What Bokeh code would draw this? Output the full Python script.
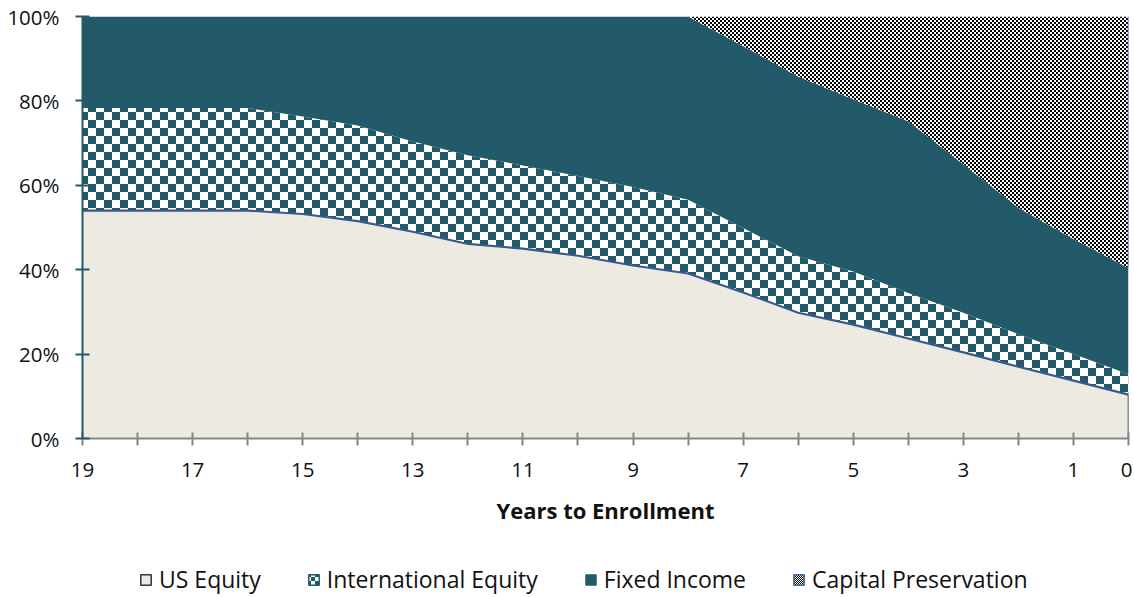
import urllib.parse
from bokeh.plotting import figure
from bokeh.layouts import column
from bokeh.models import (ColumnDataSource, Range1d, FixedTicker, PrintfTickFormatter,
                          Legend, LegendItem, ImageURLTexture, CDSView, IndexFilter)
from bokeh.core.properties import value
from bokeh.transform import stack
from bokeh.embed import file_html
from bokeh.resources import INLINE

# ---------------- data (percent of portfolio) ----------------
years = [19, 18, 17, 16, 15, 14, 13, 12, 11, 10, 9, 8, 7, 6, 5, 4, 3, 2, 1, 0]
us_equity = [54.0, 54.0, 54.0, 54.0, 53.2, 51.5, 49.0, 46.1, 45.0, 43.3,
             41.0, 39.1, 34.6, 29.8, 27.0, 23.7, 20.4, 17.0, 13.7, 10.4]
international_equity = [24.3, 24.3, 24.3, 24.3, 23.1, 22.7, 21.4, 21.0, 19.7, 18.9,
                        18.6, 17.5, 15.3, 13.4, 12.6, 10.8, 9.4, 7.7, 6.3, 4.8]
fixed_income = [21.7, 21.7, 21.7, 21.7, 23.7, 25.8, 29.6, 32.9, 35.3, 37.8,
                40.4, 43.4, 43.1, 42.6, 40.8, 40.7, 35.2, 30.0, 27.3, 25.2]
capital_preservation = [0.0, 0.0, 0.0, 0.0, 0.0, 0.0, 0.0, 0.0, 0.0, 0.0,
                        0.0, 0.0, 7.0, 14.2, 19.6, 24.8, 35.0, 45.3, 52.7, 59.6]
series_names = ["US Equity", "International Equity", "Fixed Income", "Capital Preservation"]
x_ticks = list(range(0, 20))
x_labeled = [19, 17, 15, 13, 11, 9, 7, 5, 3, 1, 0]
y_ticks = [0, 20, 40, 60, 80, 100]
x_title = "Years to Enrollment"

# ---------------- styles ----------------
TEAL = "#235A6A"
US_FILL = "#EDEBE1"
EDGE_BLUE = "#3A5A8E"
CP_EDGE = "#4D6E9C"
FONT = "Open Sans"

src = ColumnDataSource(dict(years=years, us=us_equity, intl=international_equity,
                            fi=fixed_income, cp=capital_preservation))


def checker(cell, color):
    s = 2 * cell
    svg = (f"<svg xmlns='http://www.w3.org/2000/svg' width='{s}' height='{s}' "
           f"viewBox='0 0 {s} {s}' shape-rendering='crispEdges'>"
           f"<rect width='{s}' height='{s}' fill='white'/>"
           f"<rect width='{cell}' height='{cell}' fill='{color}'/>"
           f"<rect x='{cell}' y='{cell}' width='{cell}' height='{cell}' fill='{color}'/></svg>")
    url = "data:image/svg+xml," + urllib.parse.quote(svg)
    return {"tex": ImageURLTexture(url=url, repetition="repeat")}


main = figure(frame_width=1046, frame_height=422, output_backend="svg", toolbar_location=None,
              x_range=Range1d(19, 0), y_range=Range1d(0, 100),
              min_border_left=82, min_border_right=4, min_border_top=16, min_border_bottom=110)
main.grid.visible = False
main.outline_line_color = None
main.background_fill_color = "white"

# areas
main.varea(x="years", y1=0, y2=stack("us"), source=src, fill_color=US_FILL)
main.varea(x="years", y1=stack("us"), y2=stack("us", "intl"), source=src,
           fill_color="white", hatch_pattern=value("tex"), hatch_extra=checker(8, TEAL),
           hatch_alpha=1.0)
main.varea(x="years", y1=stack("us", "intl"), y2=stack("us", "intl", "fi"), source=src,
           fill_color=TEAL)
main.varea(x="years", y1=stack("us", "intl", "fi"), y2=stack("us", "intl", "fi", "cp"),
           source=src, fill_color="white", hatch_pattern=value("tex"),
           hatch_extra=checker(2, "black"), hatch_alpha=1.0)

# boundary lines
main.line(x="years", y=stack("us"), source=src, line_color=EDGE_BLUE, line_width=2.2)
start = max(0, next(i for i, c in enumerate(capital_preservation) if c > 0) - 1)
cp_view = CDSView(filter=IndexFilter(indices=list(range(start, len(years)))))
main.line(x="years", y=stack("us", "intl", "fi"), source=src, view=cp_view,
          line_color=CP_EDGE, line_width=1.6)
main.line(x="years", y=stack("us", "intl", "fi", "cp"), source=src, view=cp_view,
          line_color=CP_EDGE, line_width=1.6)
last_view = CDSView(filter=IndexFilter(indices=[len(years) - 1]))
main.segment(x0="years", y0=stack("us", "intl", "fi"), x1="years",
             y1=stack("us", "intl", "fi", "cp"), source=src, view=last_view,
             line_color=CP_EDGE, line_width=1.6)
main.segment(x0="years", y0=0, x1="years", y1=stack("us"), source=src, view=last_view,
             line_color="#222222", line_width=1.5)

# axes
main.xaxis.ticker = FixedTicker(ticks=x_ticks)
main.xaxis.major_label_overrides = {t: (str(t) if t in x_labeled else "") for t in x_ticks}
main.xaxis.minor_tick_line_color = None
main.xaxis.axis_line_color = "#868686"
main.xaxis.axis_line_width = 2
main.xaxis.major_tick_line_color = "#868686"
main.xaxis.major_tick_line_width = 2
main.xaxis.major_tick_in = 6
main.xaxis.major_tick_out = 7
main.xaxis.major_label_standoff = 17
main.xaxis.major_label_text_font = FONT
main.xaxis.major_label_text_font_size = "20.5px"
main.xaxis.major_label_text_color = "#111111"
main.xaxis.axis_label = x_title
main.xaxis.axis_label_text_font = FONT
main.xaxis.axis_label_text_font_size = "22px"
main.xaxis.axis_label_text_font_style = "bold"
main.xaxis.axis_label_text_color = "#111111"
main.xaxis.axis_label_standoff = 15

main.yaxis.ticker = FixedTicker(ticks=y_ticks)
main.yaxis.formatter = PrintfTickFormatter(format="%d%%")
main.yaxis.minor_tick_line_color = None
main.yaxis.axis_line_color = TEAL
main.yaxis.axis_line_width = 2
main.yaxis.major_tick_line_color = TEAL
main.yaxis.major_tick_line_width = 2
main.yaxis.major_tick_in = 7
main.yaxis.major_tick_out = 7
main.yaxis.major_label_standoff = 16
main.yaxis.major_label_text_font = FONT
main.yaxis.major_label_text_font_size = "20.5px"
main.yaxis.major_label_text_color = "#111111"

# ---------------- legend strip ----------------
leg = figure(width=1132, height=47, output_backend="svg", toolbar_location=None,
             x_range=Range1d(0, 1), y_range=Range1d(0, 1), min_border=0,
             x_axis_location=None, y_axis_location=None)
leg.grid.visible = False
leg.outline_line_color = None

nan = float("nan")
leg_src = ColumnDataSource(dict(l=[nan], r=[nan], t=[nan], b=[nan]))
sw_us = leg.quad(left="l", right="r", top="t", bottom="b", source=leg_src,
                 fill_color=US_FILL, line_color="#333333", line_width=1.5)
sw_intl = leg.quad(left="l", right="r", top="t", bottom="b", source=leg_src,
                   fill_color="white", hatch_pattern=value("tex"), hatch_extra=checker(4, TEAL),
                   hatch_alpha=1.0, line_color=TEAL, line_width=1.5)
sw_fi = leg.quad(left="l", right="r", top="t", bottom="b", source=leg_src,
                 fill_color=TEAL, line_color=TEAL, line_width=1)
sw_cp = leg.quad(left="l", right="r", top="t", bottom="b", source=leg_src,
                 fill_color="white", hatch_pattern=value("tex"), hatch_extra=checker(1, "black"),
                 hatch_alpha=1.0, line_color=CP_EDGE, line_width=1.5)

legend = Legend(items=[LegendItem(label=n, renderers=[r]) for n, r in
                       zip(series_names, [sw_us, sw_intl, sw_fi, sw_cp])],
                orientation="horizontal", location=(57, 0),
                label_text_font=FONT, label_text_font_size="23px", label_text_color="#111111",
                glyph_width=13, glyph_height=13, label_standoff=7, spacing=46,
                padding=0, margin=0, border_line_alpha=0, background_fill_alpha=0)
leg.add_layout(legend)

p = column(main, leg, spacing=0)
open("out.html", "w").write(file_html(p, INLINE))
